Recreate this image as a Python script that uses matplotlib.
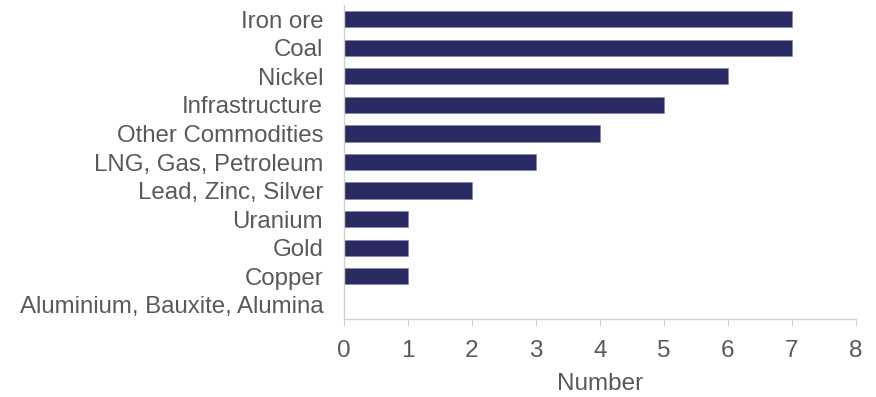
import matplotlib
matplotlib.use("Agg")
import matplotlib.pyplot as plt

categories = ["Iron ore", "Coal", "Nickel", "Infrastructure", "Other Commodities",
              "LNG, Gas, Petroleum", "Lead, Zinc, Silver", "Uranium", "Gold", "Copper",
              "Aluminium, Bauxite, Alumina"]
values = [7, 7, 6, 5, 4, 3, 2, 1, 1, 1, 0]
xticks = [0, 1, 2, 3, 4, 5, 6, 7, 8]

BAR = "#2A2A62"
TXT = "#595959"
AX = "#D0D0D0"

plt.rcParams["font.family"] = ["Liberation Sans", "DejaVu Sans"]

fig = plt.figure(figsize=(8.76, 3.97), dpi=100)
ax = fig.add_axes([344 / 876, 1 - 319 / 397, 512 / 876, 314 / 397])

ypos = list(range(len(categories)))
ax.barh(ypos, values, height=0.57, color=BAR, edgecolor="#8080a8", linewidth=0.4)
ax.set_ylim(len(categories) - 0.5, -0.5)
ax.set_xlim(0, 8)
ax.set_yticks(ypos)
ax.set_yticklabels(categories, fontsize=17.3, color=TXT)
ax.set_xticks(xticks)
ax.set_xticklabels([str(t) for t in xticks], fontsize=17.5, color=TXT)
ax.set_xlabel("Number", fontsize=17.5, color=TXT, labelpad=8)

for s in ["top", "right"]:
    ax.spines[s].set_visible(False)
for s in ["left", "bottom"]:
    ax.spines[s].set_color(AX)
    ax.spines[s].set_linewidth(1)
ax.tick_params(axis="y", length=0, pad=15)
ax.tick_params(axis="x", length=5, color=AX, pad=10)

fig.savefig("out.png", dpi=100)
